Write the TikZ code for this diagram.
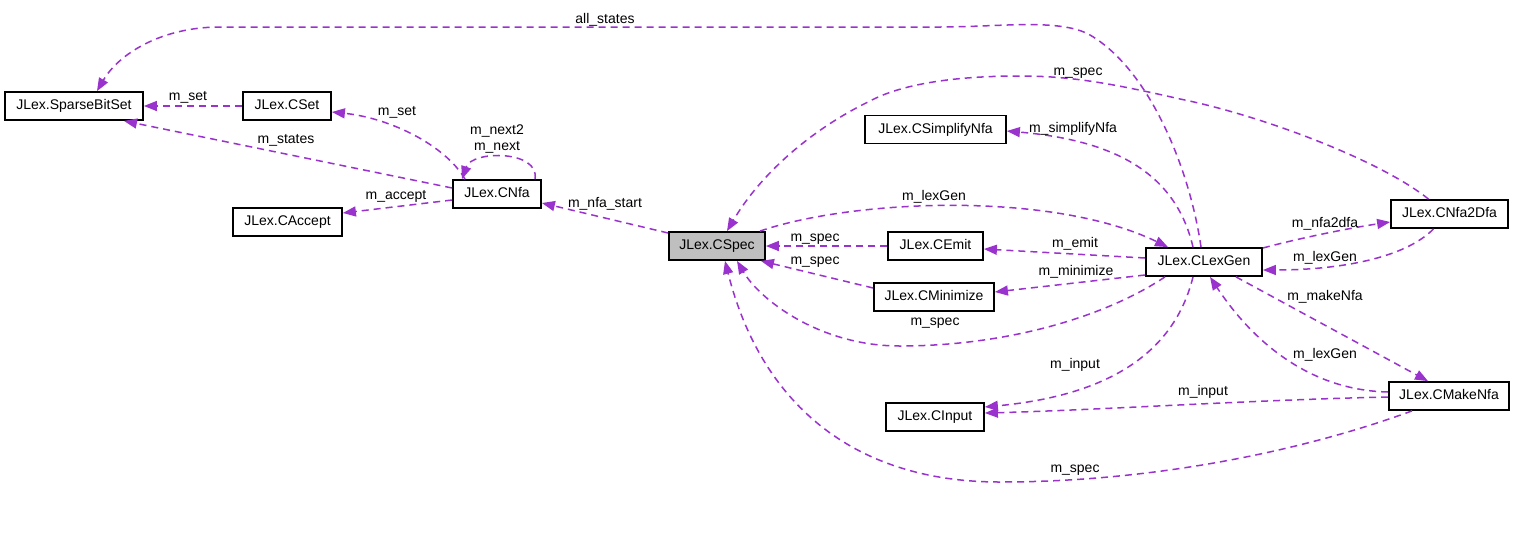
\documentclass[tikz,border=0pt]{standalone}
\usepackage{fontspec}
\setmainfont{Liberation Sans}
\usetikzlibrary{arrows.meta}
\definecolor{edgecol}{HTML}{9A32CD}
\definecolor{hlfill}{HTML}{BFBFBF}
\begin{document}
\begin{tikzpicture}[x=1pt,y=-1pt,
  cls/.style={draw=black,line width=1.8pt,minimum height=28pt,inner sep=0pt,
    font=\fontsize{14}{16}\selectfont,text height=10pt,text depth=3pt},
  lbl/.style={inner sep=0pt,font=\fontsize{14}{16}\selectfont,text height=10pt,text depth=3pt},
  edge/.style={draw=edgecol,line width=1.5pt,dash pattern=on 7pt off 5pt,
    -{Triangle[length=13pt,width=10pt]}}]
\fill[white] (0,0) rectangle (1517,539);
\useasboundingbox (0,0) rectangle (1517,539);

% classes
\node[cls,minimum width=138pt] (sbs) at (74,106) {JLex.SparseBitSet};
\node[cls,minimum width=88pt] (cset) at (287,106) {JLex.CSet};
\node[cls,minimum width=88pt] (cnfa) at (497,194) {JLex.CNfa};
\node[cls,minimum width=109pt] (cacc) at (287.5,222) {JLex.CAccept};
\node[cls,minimum width=96pt,fill=hlfill] (cspec) at (717,246) {JLex.CSpec};
\node[cls,minimum width=141pt] (csimp) at (935.5,129.5) {JLex.CSimplifyNfa};
\node[cls,minimum width=95pt] (cemit) at (935.5,246) {JLex.CEmit};
\node[cls,minimum width=120pt] (cmin) at (934,297) {JLex.CMinimize};
\node[cls,minimum width=98pt] (cinput) at (935,417) {JLex.CInput};
\node[cls,minimum width=116pt] (clex) at (1204,262) {JLex.CLexGen};
\node[cls,minimum width=117pt] (cn2d) at (1449.5,214) {JLex.CNfa2Dfa};
\node[cls,minimum width=120pt] (cmake) at (1449,396) {JLex.CMakeNfa};

% edges
\draw[edge] (cset.west) -- (sbs.east);
\draw[edge] ([yshift=6pt]cnfa.west) -- ([xshift=50pt]sbs.south);
\draw[edge] ([xshift=-32pt]cnfa.north) .. controls (445,145) and (390,118) .. ([yshift=-6pt]cset.east);
\draw[edge] ([xshift=38pt]cnfa.north) .. controls (540,150) and (472,150) .. ([xshift=-35pt]cnfa.north);
\draw[edge] ([yshift=-6pt]cnfa.west) -- ([yshift=9pt]cacc.east);
\draw[edge] ([yshift=13pt]cspec.west) -- ([yshift=-9pt]cnfa.east);
\draw[edge] ([xshift=-3pt]clex.north) .. controls (1190,170) and (1150,70) .. (1090,35)
  .. controls (1060,18) and (1000,27) .. (940,27) -- (220,27)
  .. controls (160,27) and (118,55) .. ([xshift=23pt]sbs.north);
\draw[edge] ([xshift=-21pt]cn2d.north) .. controls (1380,160) and (1260,115) .. (1180,99)
  .. controls (1110,83) and (1070,76) .. (1020,76)
  .. controls (950,76) and (900,85) .. (870,101)
  .. controls (810,130) and (760,175) .. ([xshift=10pt]cspec.north);
\draw[edge] ([xshift=-11pt]clex.north) .. controls (1175,170) and (1110,140) .. ([yshift=-1.5pt]csimp.east);
\draw[edge] ([xshift=43pt]cspec.north) .. controls (850,200) and (1050,190) .. ([xshift=-36pt]clex.north);
\draw[edge] ([yshift=4pt]clex.west) -- ([yshift=-3pt]cemit.east);
\draw[edge] (cemit.west) -- (cspec.east);
\draw[edge] ([yshift=9pt]cmin.west) -- ([xshift=-5pt]cspec.south east);
\draw[edge] ([yshift=-13pt]clex.west) -- ([yshift=5pt]cmin.east);
\draw[edge] ([xshift=-39pt]clex.south) .. controls (1100,320) and (1000,346) .. (900,346)
  .. controls (820,346) and (760,300) .. ([xshift=20pt]cspec.south);
\draw[edge] ([yshift=14pt]clex.east) .. controls (1300,238) and (1350,228) .. ([yshift=-8pt]cn2d.west);
\draw[edge] ([xshift=-16pt]cn2d.south) .. controls (1405,258) and (1340,270) .. ([yshift=-8pt]clex.east);
\draw[edge] ([xshift=32pt]clex.south) -- ([xshift=-21pt]cmake.north);
\draw[edge] ([yshift=4pt]cmake.west) .. controls (1300,390) and (1245,330) .. ([xshift=6pt]clex.south);
\draw[edge] ([xshift=-11pt]clex.south) .. controls (1170,370) and (1080,398) .. ([yshift=10pt]cinput.east);
\draw[edge] ([yshift=-1pt]cmake.west) .. controls (1250,400) and (1100,410) .. ([yshift=4pt]cinput.east);
\draw[edge] ([xshift=-37pt]cmake.south) .. controls (1300,452) and (1150,482) .. (1000,482)
  .. controls (850,482) and (760,400) .. ([xshift=8pt]cspec.south);

% labels
\node[lbl] (l1) at (188,97) {m\_set};
\node[lbl] (l2) at (286,140) {m\_states};
\node[lbl] (l3) at (397,112) {m\_set};
\node[lbl] (l4) at (497,131) {m\_next2};
\node[lbl] (l5) at (497,147) {m\_next};
\node[lbl] (l6) at (396,196) {m\_accept};
\node[lbl] (l7) at (605,204) {m\_nfa\_start};
\node[lbl] (l8) at (605,20) {all\_states};
\node[lbl] (l9) at (1078,72) {m\_spec};
\node[lbl] (l10) at (1073,129) {m\_simplifyNfa};
\node[lbl] (l11) at (934,197) {m\_lexGen};
\node[lbl] (l12) at (1075,244) {m\_emit};
\node[lbl] (l13) at (815,238) {m\_spec};
\node[lbl] (l14) at (815,261) {m\_spec};
\node[lbl] (l15) at (1076,272) {m\_minimize};
\node[lbl] (l16) at (935,322) {m\_spec};
\node[lbl] (l17) at (1325,224) {m\_nfa2dfa};
\node[lbl] (l18) at (1325,258) {m\_lexGen};
\node[lbl] (l19) at (1325,297) {m\_makeNfa};
\node[lbl] (l20) at (1075,365) {m\_input};
\node[lbl] (l21) at (1325,355) {m\_lexGen};
\node[lbl] (l22) at (1203,392) {m\_input};
\node[lbl] (l23) at (1075,469) {m\_spec};
\end{tikzpicture}
\end{document}
